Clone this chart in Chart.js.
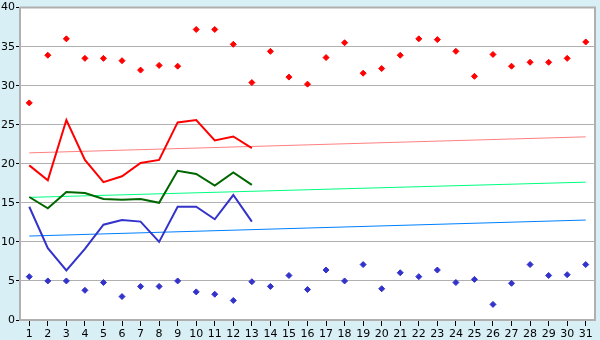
<!DOCTYPE html>
<html>
<head>
<meta charset="utf-8">
<script src="https://cdn.jsdelivr.net/npm/chart.js@4.4.0/dist/chart.umd.min.js"></script>
<style>
  html, body { margin: 0; padding: 0; background: #d9eff6; }
  #chart { display: block; }
</style>
</head>
<body>
<canvas id="chart" width="600" height="340"></canvas>
<script>
// days of the month
const days = ['1','2','3','4','5','6','7','8','9','10','11','12','13','14','15','16',
              '17','18','19','20','21','22','23','24','25','26','27','28','29','30','31'];

// scattered highs and lows
const highPoints = [27.8, 33.9, 36.0, 33.5, 33.5, 33.2, 32.0, 32.6, 32.5, 37.2, 37.2, 35.3, 30.4, 34.4, 31.1,
                    30.2, 33.6, 35.5, 31.6, 32.2, 33.9, 36.0, 35.9, 34.4, 31.2, 34.0, 32.5, 33.0, 33.0, 33.5, 35.6];
const lowPoints = [5.55, 5.0, 5.0, 3.8, 4.8, 3.0, 4.3, 4.3, 5.0, 3.6, 3.3, 2.5, 4.9, 4.3, 5.7,
                   3.9, 6.4, 5.0, 7.1, 4.0, 6.05, 5.55, 6.4, 4.8, 5.2, 2.0, 4.7, 7.1, 5.7, 5.8, 7.1];

// first 13 days, lines
const redLine = [19.8, 17.9, 25.6, 20.5, 17.65, 18.4, 20.1, 20.5, 25.3, 25.6, 23.0, 23.5, 22.0];
const greenLine = [15.75, 14.3, 16.4, 16.25, 15.5, 15.4, 15.5, 15.0, 19.1, 18.7, 17.2, 18.9, 17.3];
const blueLine = [14.5, 9.2, 6.35, 9.1, 12.2, 12.8, 12.6, 10.0, 14.5, 14.5, 12.9, 16.0, 12.6];

// trend lines: value at day 1 and day 31
const redTrend = [21.4, 23.45];
const greenTrend = [15.7, 17.65];
const blueTrend = [10.75, 12.8];

const yTicks = [0, 5, 10, 15, 20, 25, 30, 35, 40];

function endsOnly(pair) {
    const arr = days.map(() => null);
    arr[0] = pair[0];
    arr[days.length - 1] = pair[1];
    return arr;
}

const plotFrame = {
    id: 'plotFrame',
    beforeDraw(chart) {
        const { ctx, chartArea: a } = chart;
        ctx.save();
        ctx.fillStyle = '#ffffff';
        ctx.fillRect(a.left, a.top, a.right - a.left, a.bottom - a.top);
        ctx.restore();
    },
    afterDatasetsDraw(chart) {
        const { ctx, chartArea: a } = chart;
        ctx.save();
        ctx.strokeStyle = '#b0b0b0';
        ctx.lineWidth = 2;
        ctx.beginPath();
        ctx.moveTo(a.left, a.top);
        ctx.lineTo(a.right, a.top);
        ctx.lineTo(a.right, a.bottom);
        ctx.stroke();
        ctx.restore();
    }
};

const lineDs = (data, color) => ({
    type: 'line', data: data, borderColor: color, borderWidth: 2,
    pointRadius: 0, fill: false, tension: 0, order: 2
});
const trendDs = (pair, color) => ({
    type: 'line', data: endsOnly(pair), borderColor: color, borderWidth: 1,
    pointRadius: 0, fill: false, spanGaps: true, tension: 0, order: 3
});
const dotDs = (data, color) => ({
    type: 'line', data: data, showLine: false, pointStyle: 'rectRot',
    pointRadius: 3, pointBackgroundColor: color, pointBorderColor: color,
    pointBorderWidth: 1, order: 1
});

new Chart(document.getElementById('chart'), {
    type: 'line',
    data: {
        labels: days,
        datasets: [
            trendDs(redTrend, '#ff8080'),
            trendDs(greenTrend, '#00ff80'),
            trendDs(blueTrend, '#0080ff'),
            lineDs(redLine, '#ff0000'),
            lineDs(greenLine, '#006600'),
            lineDs(blueLine, '#3333cc'),
            dotDs(highPoints, '#ff0000'),
            dotDs(lowPoints, '#3333cc')
        ]
    },
    options: {
        responsive: false,
        animation: false,
        layout: { padding: { top: 5, right: 5, left: 0, bottom: 0 } },
        plugins: { legend: { display: false }, tooltip: { enabled: false } },
        scales: {
            x: {
                offset: true,
                grid: { drawOnChartArea: false, drawTicks: true, tickLength: 6, color: '#000000', offset: false },
                border: { color: '#b0b0b0', width: 2 },
                ticks: { color: '#000', font: { family: 'DejaVu Sans', size: 11 }, padding: 2, maxRotation: 0, autoSkip: false },
                afterFit(scale) { scale.height = 20; }
            },
            y: {
                min: 0, max: 40,
                afterBuildTicks(scale) { scale.ticks = yTicks.map(v => ({ value: v })); },
                grid: { color: '#b0b0b0', lineWidth: 1, tickLength: 4, tickColor: '#000000' },
                border: { color: '#b0b0b0', width: 2 },
                ticks: { color: '#000', font: { family: 'DejaVu Sans', size: 11 }, padding: 1 },
                afterFit(scale) { scale.width = 20; }
            }
        }
    },
    plugins: [plotFrame]
});
</script>
</body>
</html>
